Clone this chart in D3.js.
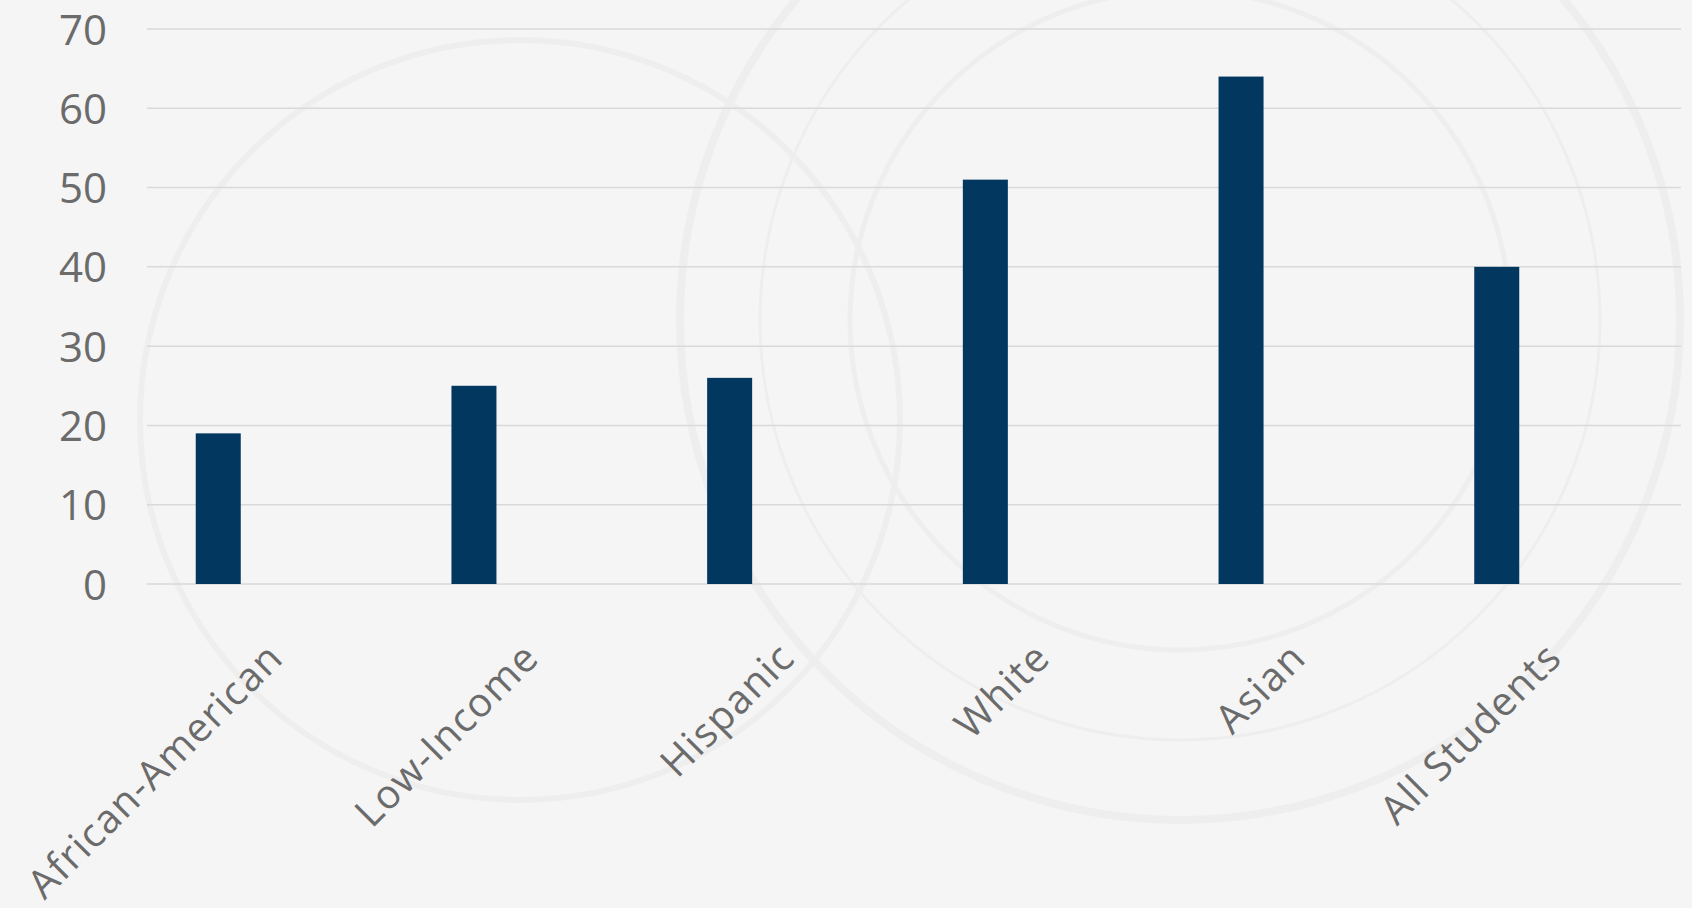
<!DOCTYPE html>
<html>
<head>
<meta charset="utf-8">
<script src="https://cdn.jsdelivr.net/npm/d3@7"></script>
<style>
    html, body { margin: 0; padding: 0; background: #f5f5f5; overflow: hidden; }
    svg { display: block; }
</style>
</head>
<body>
<script>
if(!d3){
    throw new Error("d3 failed to load");
}

// data
const categories = ["African-American", "Low-Income", "Hispanic", "White", "Asian", "All Students"];
const values = [19, 25, 26, 51, 64, 40];
const yTicks = [0, 10, 20, 30, 40, 50, 60, 70];

const W = 1692, H = 908;
const font = "'Century Gothic', 'Open Sans', 'Lato', sans-serif";
const grey = "#6b6b6b";

const svg = d3.select("body").append("svg")
    .attr("width", W)
    .attr("height", H);

// backdrop: pale grey with a very faint dome watermark
svg.append("rect")
    .attr("width", W)
    .attr("height", H)
    .attr("fill", "#f5f5f5");

const deco = svg.append("g")
    .attr("fill", "none")
    .attr("stroke", "#eeeeee");
[[1180, 320, 500, 8], [1180, 320, 420, 3], [1180, 320, 330, 5], [520, 420, 380, 6]]
    .forEach(([cx, cy, r, w]) => deco.append("circle")
        .attr("cx", cx).attr("cy", cy).attr("r", r).attr("stroke-width", w));

const y = d3.scaleLinear()
    .domain([0, 70])
    .range([584, 29]);

const x = d3.scaleBand()
    .domain(categories)
    .range([90.4, 1624.6])
    .paddingInner(0.824)
    .paddingOuter(0.412);

// gridlines
svg.append("g")
    .selectAll("line")
    .data(yTicks)
    .join("line")
    .attr("x1", 147)
    .attr("x2", 1681)
    .attr("y1", d => y(d))
    .attr("y2", d => y(d))
    .attr("stroke", "#d9d9d9")
    .attr("stroke-width", 1.5);

// y axis labels
const yAxis = svg.append("g")
    .attr("transform", "translate(107,0)")
    .call(d3.axisLeft(y).tickValues(yTicks).tickSize(0).tickPadding(0));
yAxis.select(".domain").remove();
yAxis.selectAll("text")
    .attr("font-family", font)
    .attr("font-size", 42)
    .attr("fill", grey)
    .attr("dy", "0.36em");

// bars
svg.append("g")
    .selectAll("rect")
    .data(values)
    .join("rect")
    .attr("x", (d, i) => x(categories[i]))
    .attr("width", x.bandwidth())
    .attr("y", d => y(d))
    .attr("height", d => y(0) - y(d))
    .attr("fill", "#02375f");

// x axis labels, rotated
const xAxis = svg.append("g")
    .attr("transform", `translate(0,${y(0)})`)
    .call(d3.axisBottom(x).tickSize(0).tickPadding(0));
xAxis.select(".domain").remove();
xAxis.selectAll("text")
    .attr("font-family", font)
    .attr("font-size", 40)
    .attr("letter-spacing", 1.2)
    .attr("fill", grey)
    .attr("text-anchor", "end")
    .attr("dy", 0)
    .attr("y", 0)
    .attr("transform", "translate(67,76) rotate(-45)");
</script>
</body>
</html>
